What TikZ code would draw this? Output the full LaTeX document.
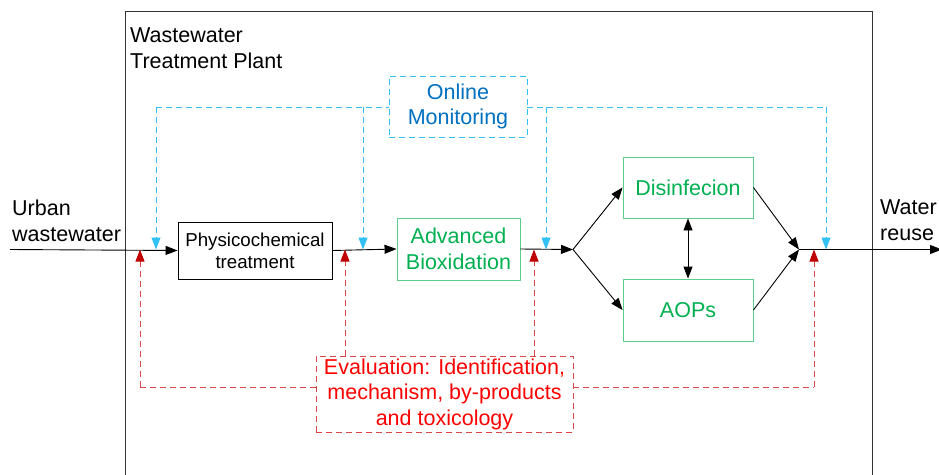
\documentclass[tikz,border=0pt]{standalone}
\usepackage{fontspec}
\setmainfont{Liberation Sans}
\usetikzlibrary{arrows.meta,calc}
\definecolor{okgreen}{HTML}{00B050}
\definecolor{boxgreen}{HTML}{5CCF8E}
\definecolor{monblue}{HTML}{0070C0}
\definecolor{linblue}{HTML}{33C0F2}
\definecolor{evred}{HTML}{FF0000}
\definecolor{linred}{HTML}{D84848}
\definecolor{tipred}{HTML}{C00000}
\begin{document}
\begin{tikzpicture}[x=1pt,y=-1pt,
  tip/.style={-{Triangle[length=12pt,width=9pt]}},
  txt/.style={font=\fontsize{21.5}{25.5}\selectfont},
  blackbox/.style={draw=black,line width=0.9pt,inner sep=0pt,align=center},
  greenbox/.style={draw=boxgreen,line width=0.9pt,inner sep=0pt,align=center,text=okgreen,txt},
  flow/.style={draw=black,line width=0.9pt,tip},
  plain/.style={draw=black,line width=0.9pt},
  monline/.style={draw=linblue,line width=0.9pt,dash pattern=on 6pt off 4pt},
  monarrow/.style={monline,-{Triangle[length=12pt,width=9pt,fill=linblue,color=linblue]}},
  evline/.style={draw=linred,line width=0.9pt,dash pattern=on 6pt off 4pt},
  evarrow/.style={evline,-{Triangle[length=12pt,width=9pt,fill=tipred,color=tipred]}},
  frame/.style={draw=black!80,line width=1pt}]
\useasboundingbox (0,0) rectangle (939,474);
% plant frame
\draw[frame] (125,480) -- (125,11) -- (872,11) -- (872,480);
\node[txt,anchor=north west,inner sep=0pt,align=left] (plant) at (130,28) {Wastewater\\Treatment Plant};
% flow nodes
\node[blackbox,minimum width=154pt,minimum height=57pt,font=\fontsize{18.7}{22}\selectfont] (phys) at (255,250.5) {Physicochemical\\treatment};
\node[greenbox,minimum width=123pt,minimum height=62pt] (adv) at (458.5,249) {Advanced\\Bioxidation};
\node[greenbox,minimum width=130pt,minimum height=61pt] (dis) at (688,187.5) {Disinfecion};
\node[greenbox,minimum width=130pt,minimum height=62pt] (aop) at (688,310) {AOPs};
\node[txt,anchor=north west,inner sep=0pt,align=left] (urban) at (12,200) {Urban\\wastewater};
\node[txt,anchor=north west,inner sep=0pt,align=left] (reuse) at (880,200) {Water\\reuse};
% monitoring and evaluation boxes
\node[txt,draw=linblue,line width=0.9pt,dash pattern=on 6pt off 4pt,fill=white,text=monblue,minimum width=138pt,minimum height=61pt,inner sep=0pt,align=center] (mon) at (458,106.5) {Online\\Monitoring};
\node[txt,draw=linred,line width=0.9pt,dash pattern=on 6pt off 4pt,fill=white,text=evred,minimum width=257pt,minimum height=76pt,inner sep=0pt,align=center] (eval) at (444.5,394) {Evaluation: Identification,\\mechanism, by-products\\and toxicology};
% coordinates
\coordinate (in) at (10,249.5);
\coordinate (split) at (573,249.5);
\coordinate (merge) at (799,249.5);
\coordinate (out) at (942,249.5);
\coordinate (m1) at (156,107);
\coordinate (m2) at (363,107);
\coordinate (m3) at (546,107);
\coordinate (m4) at (826,107);
\coordinate (e1) at (140,387);
\coordinate (e2) at (345,249.5);
\coordinate (e3) at (534,249.5);
\coordinate (e4) at (814,387);
% main flow
\draw[flow] (in) -- (phys.west);
\draw[flow] (phys.east) -- (adv.west);
\draw[flow] (adv.east) -- (split);
\draw[flow] (split) -- (dis.west);
\draw[flow] (split) -- (aop.west);
\draw[flow] (dis.east) -- (merge);
\draw[flow] (aop.east) -- (merge);
\draw[flow] (merge) -- (out);
\draw[plain,{Triangle[length=12pt,width=9pt]}-{Triangle[length=12pt,width=9pt]}] (dis.south) -- (aop.north);
% monitoring lines
\draw[monline] (m1) -- (mon.west |- m1);
\draw[monline] (mon.east |- m4) -- (m4);
\draw[monarrow] (m1) -- (m1 |- in);
\draw[monarrow] (m2) -- (m2 |- in);
\draw[monarrow] (m3) -- (m3 |- in);
\draw[monarrow] (m4) -- (m4 |- in);
% evaluation lines
\draw[evline] (e1) -- (eval.west |- e1);
\draw[evline] (eval.east |- e4) -- (e4);
\draw[evarrow] (e1) -- (e1 |- in);
\draw[evarrow] (eval.north -| e2) -- (e2);
\draw[evarrow] (eval.north -| e3) -- (e3);
\draw[evarrow] (e4) -- (e4 |- in);
\end{tikzpicture}
\end{document}
